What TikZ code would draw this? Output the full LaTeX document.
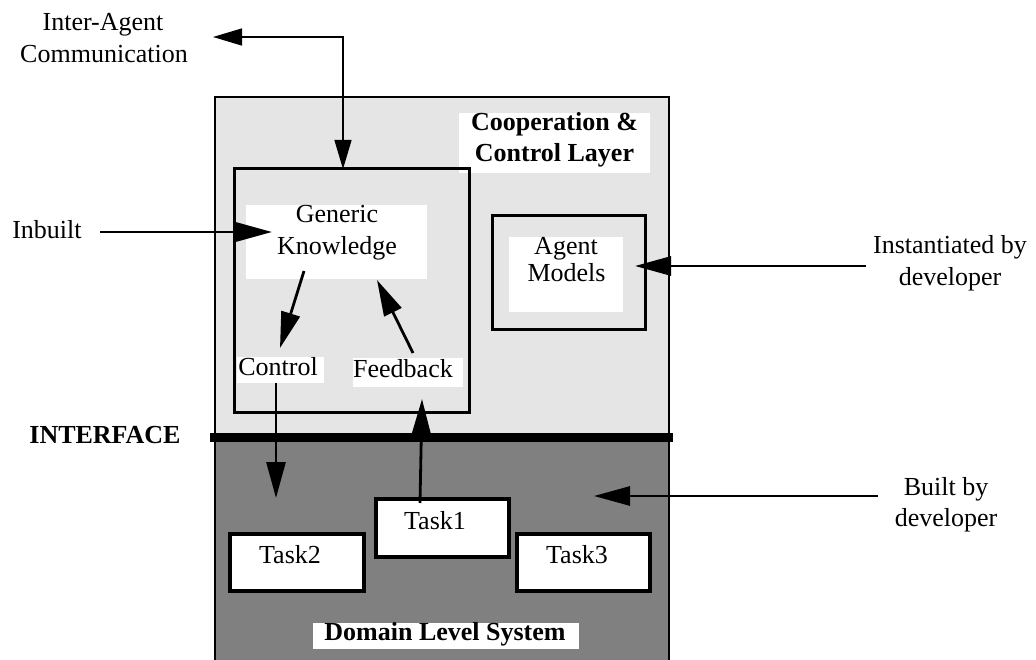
\documentclass[tikz,border=0pt]{standalone}
\usepackage{fontspec}
\setmainfont{Liberation Serif}
\usetikzlibrary{arrows.meta}
\definecolor{coopgrey}{HTML}{E5E5E5}
\definecolor{domaingrey}{HTML}{808080}
\begin{document}
\begin{tikzpicture}[x=1pt,y=-1pt,
  txt/.style={font=\fontsize{26}{31}\selectfont, inner sep=0pt, anchor=base},
  btxt/.style={font=\fontsize{26}{31}\selectfont\bfseries, inner sep=0pt, anchor=base},
  panel/.style={draw, line width=2.8pt, inner sep=0pt, outer sep=0pt, anchor=north west},
  framebox/.style={draw, line width=3pt, inner sep=0pt, outer sep=0pt, anchor=north west},
  whitebg/.style={fill=white, inner sep=0pt, outer sep=0pt, anchor=north west},
  taskbox/.style={draw, fill=white, line width=3.3pt, inner sep=0pt, outer sep=0pt, anchor=north west},
  arr/.style={line width=2.8pt, -{Triangle[length=36pt,width=19pt]}},
  thinarr/.style={line width=1.4pt, {Triangle[length=29pt,width=17pt]}-{Triangle[length=29pt,width=17pt]}},
  interfacebar/.style={line width=9pt}
]
\fill[white] (0,0) rectangle (1036,660);
\useasboundingbox (0,0) rectangle (1036,660);

% the two layers and the interface between them
\node[panel, fill=coopgrey, minimum width=454, minimum height=340] (coop) at (215,97) {};
\node[panel, fill=domaingrey, minimum width=454, minimum height=240] (domain) at (215,437) {};
\draw[interfacebar] ([xshift=-5pt]coop.south west) -- ([xshift=4pt]coop.south east);

% cooperation & control layer
\node[whitebg, minimum width=191, minimum height=60] (coopbg) at (459,113) {};
\node[btxt] (coop1) at (554.5,131) {Cooperation \&};
\node[btxt] (coop2) at (554.5,162) {Control Layer};

\node[framebox, minimum width=235, minimum height=243] (gkbox) at (234,169) {};
\node[whitebg, minimum width=181, minimum height=74] (gkbg) at (246,205) {};
\node[txt] (gk1) at (337,223) {Generic};
\node[txt] (gk2) at (337,255) {Knowledge};

\node[whitebg, minimum width=87, minimum height=26] (ctrlbg) at (237,357) {};
\node[txt] (ctrl) at (278,375) {Control};
\node[whitebg, minimum width=110, minimum height=29] (fbbg) at (353,358) {};
\node[txt] (fb) at (403,377) {Feedback};

\node[framebox, minimum width=153, minimum height=113] (ambox) at (492,216) {};
\node[whitebg, minimum width=114, minimum height=75] (ambg) at (509,237) {};
\node[txt] (am1) at (566,255) {Agent};
\node[txt] (am2) at (566.5,282) {Models};

% domain level system
\node[taskbox, minimum width=133, minimum height=58] (task1) at (376,499) {};
\node[txt] (task1t) at (435,529) {Task1};
\node[taskbox, minimum width=134, minimum height=57] (task2) at (230,534) {};
\node[txt] (task2t) at (290,563) {Task2};
\node[taskbox, minimum width=133, minimum height=57] (task3) at (517,534) {};
\node[txt] (task3t) at (577,563) {Task3};

\node[whitebg, minimum width=266, minimum height=26] (dlbg) at (313,623) {};
\node[btxt] (dl) at (445,640) {Domain Level System};

% outside labels
\node[txt] (ia1) at (103,31) {Inter-Agent};
\node[txt] (ia2) at (104,63) {Communication};
\node[txt] (inbuilt) at (47,239) {Inbuilt};
\node[btxt] (interface) at (105,443) {INTERFACE};
\node[txt] (inst1) at (950,254) {Instantiated by};
\node[txt] (inst2) at (950,286) {developer};
\node[txt] (built1) at (946,495) {Built by};
\node[txt] (built2) at (946,526) {developer};

% connector end points
\coordinate (iaCorner) at (343,37);
\coordinate (iaTip) at (213,37);
\coordinate (inStart) at (100,232);
\coordinate (inTip) at (272,232);
\coordinate (instStart) at (866,266);
\coordinate (instTip) at (635,266);
\coordinate (bltStart) at (878,496);
\coordinate (bltTip) at (594,496);
\coordinate (gkOut) at (304,271);
\coordinate (ctrlIn) at (280,348);
\coordinate (fbOut) at (413,353);
\coordinate (gkIn) at (377,280);
\coordinate (ctrlDown) at (276,498);
\coordinate (t1Out) at (420,503);
\coordinate (fbIn) at (422,399);

% connectors
\draw[thinarr] (iaTip) -- (iaCorner) -- (iaCorner |- gkbox.north);
\draw[arr] (inStart) -- (inTip);
\draw[arr] (instStart) -- (instTip);
\draw[arr] (bltStart) -- (bltTip);
\draw[arr] (gkOut) -- (ctrlIn);
\draw[arr] (fbOut) -- (gkIn);
\draw[arr] (ctrlbg.south -| ctrlDown) -- (ctrlDown);
\draw[arr] (t1Out) -- (fbIn);
\end{tikzpicture}
\end{document}
